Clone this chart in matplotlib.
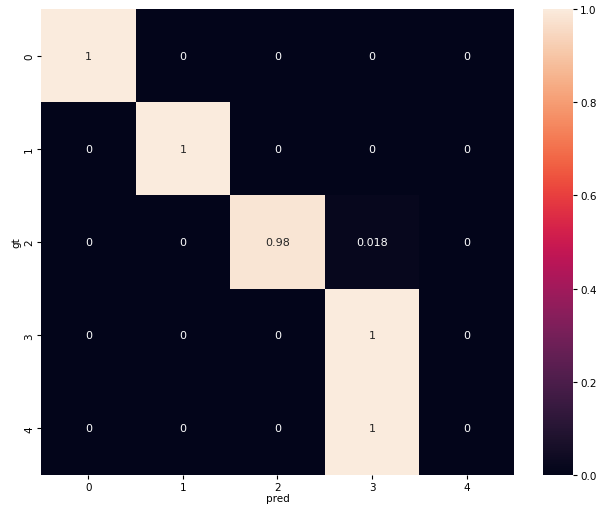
import numpy as np
import matplotlib
matplotlib.use("Agg")
import matplotlib.pyplot as plt
import seaborn as sns

labels = [0, 1, 2, 3, 4]
row0 = [1.0, 0.0, 0.0, 0.0, 0.0]
row1 = [0.0, 1.0, 0.0, 0.0, 0.0]
row2 = [0.0, 0.0, 0.982, 0.018, 0.0]
row3 = [0.0, 0.0, 0.0, 1.0, 0.0]
row4 = [0.0, 0.0, 0.0, 1.0, 0.0]

cm = np.array([row0, row1, row2, row3, row4])

plt.rcParams['font.size'] = 7.5
fig = plt.figure(figsize=(5.99, 5.06), dpi=100)
ax = fig.add_axes([41 / 599, 30 / 506, 473 / 599, 466 / 506])
cax = fig.add_axes([543 / 599, 30 / 506, 30 / 599, 466 / 506])

sns.heatmap(cm, annot=True, ax=ax, cbar_ax=cax,
            xticklabels=labels, yticklabels=labels,
            annot_kws={'size': 8})
ax.tick_params(axis='both', labelsize=7.5, pad=2, length=3)
cax.tick_params(labelsize=7.5, pad=2, length=3)
ax.set_xlabel('pred', labelpad=1)
ax.set_ylabel('gt', labelpad=2)

fig.savefig('out.png', dpi=100)
